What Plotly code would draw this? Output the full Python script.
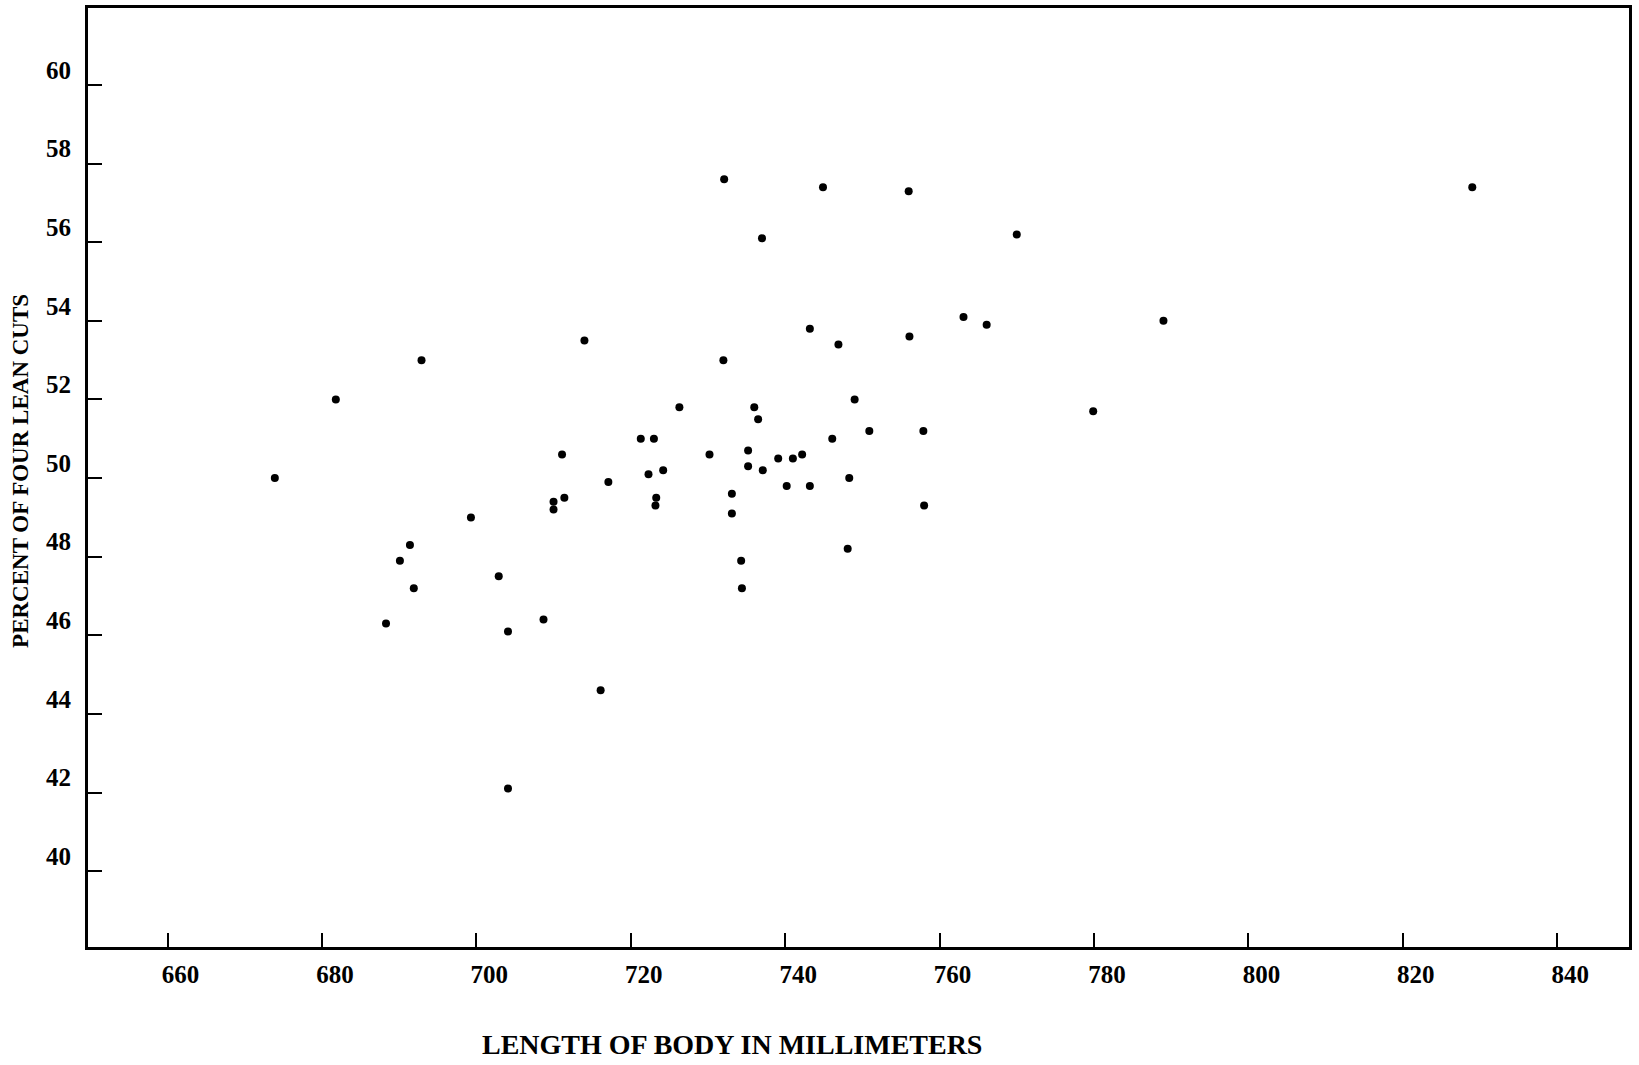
import plotly.graph_objects as go

# Body length (mm) and percent of four lean cuts for each carcass
body_length_mm = [
    673.9, 681.8, 692.9, 688.3, 690.1, 691.4, 691.9, 699.3, 702.9, 704.1,
    704.1, 708.7, 710.0, 710.0, 711.1, 711.4, 714.0, 716.1, 717.1, 721.3,
    723.0, 722.3, 723.3, 723.2, 724.2, 726.3, 730.2, 732.1, 732.0, 733.1,
    733.1, 734.3, 734.4, 735.2, 735.2, 736.0, 736.5, 737.0, 737.1, 739.1,
    740.2, 741.0, 742.2, 743.2, 743.2, 744.9, 746.1, 746.9, 748.1, 748.3,
    749.0, 750.9, 756.0, 756.1, 757.9, 758.0, 763.1, 766.1, 770.0, 779.9,
    789.0, 829.0,
]
lean_cuts_pct = [
    50.0, 52.0, 53.0, 46.3, 47.9, 48.3, 47.2, 49.0, 47.5, 46.1,
    42.1, 46.4, 49.4, 49.2, 50.6, 49.5, 53.5, 44.6, 49.9, 51.0,
    51.0, 50.1, 49.5, 49.3, 50.2, 51.8, 50.6, 57.6, 53.0, 49.6,
    49.1, 47.9, 47.2, 50.7, 50.3, 51.8, 51.5, 56.1, 50.2, 50.5,
    49.8, 50.5, 50.6, 53.8, 49.8, 57.4, 51.0, 53.4, 48.2, 50.0,
    52.0, 51.2, 57.3, 53.6, 51.2, 49.3, 54.1, 53.9, 56.2, 51.7,
    54.0, 57.4,
]

x_ticks = [660, 680, 700, 720, 740, 760, 780, 800, 820, 840]
y_ticks = [40, 42, 44, 46, 48, 50, 52, 54, 56, 58, 60]

x_title = "LENGTH OF BODY IN MILLIMETERS"
y_title = "PERCENT OF FOUR LEAN CUTS"

serif = "Liberation Serif, DejaVu Serif, serif"

fig = go.Figure(
    go.Scatter(
        x=body_length_mm,
        y=lean_cuts_pct,
        mode="markers",
        marker=dict(color="black", size=8, line=dict(width=0)),
        hoverinfo="x+y",
    )
)

axis_common = dict(
    showgrid=False,
    zeroline=False,
    showline=True,
    linecolor="black",
    linewidth=3,
    mirror=True,
    ticks="inside",
    tickcolor="black",
    tickwidth=2,
    ticklen=14,
    tickfont=dict(family=serif, size=25, color="black", weight="bold"),
)

fig.update_xaxes(
    range=[649.7, 849.3],
    tickvals=x_ticks,
    ticktext=[str(v) for v in x_ticks],
    ticklabelshift=13,
    ticklabelstandoff=3,
    **axis_common,
)
fig.update_yaxes(
    range=[38.07, 61.96],
    tickvals=y_ticks,
    ticktext=[str(v) for v in y_ticks],
    ticklabelshift=-15,
    ticklabelstandoff=9,
    **axis_common,
)

fig.add_annotation(
    text=x_title,
    xref="paper", yref="paper",
    x=0.4177, y=-0.104,
    xanchor="center", yanchor="middle",
    showarrow=False,
    font=dict(family=serif, size=28, color="black", weight="bold"),
)
fig.add_annotation(
    text=y_title,
    xref="paper", yref="paper",
    x=-0.0435, y=0.507,
    xanchor="center", yanchor="middle",
    textangle=-90,
    showarrow=False,
    font=dict(family=serif, size=23, color="black", weight="bold"),
)

fig.update_layout(
    width=1639,
    height=1065,
    margin=dict(l=88, r=10, t=5, b=118),
    paper_bgcolor="white",
    plot_bgcolor="white",
    showlegend=False,
)

fig.write_html("out.html")
